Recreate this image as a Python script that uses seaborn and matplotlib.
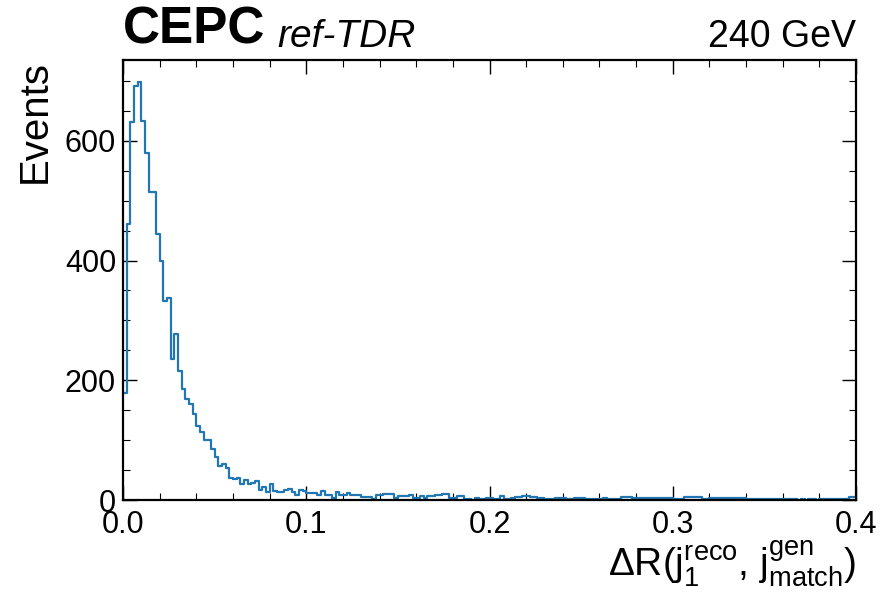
import numpy as np
import pandas as pd
import matplotlib
matplotlib.use("Agg")
import matplotlib.pyplot as plt
import seaborn as sns
from matplotlib.ticker import MultipleLocator

# ---- data ----
x_min, x_max, n_bins = 0.0, 0.4, 200
counts_head = [178, 461, 632, 692, 698, 633, 580, 514, 514, 445,
               400, 333, 337, 235, 278, 215, 186, 169, 160, 143,
               124, 113, 100, 100, 86, 72, 56, 60, 53, 36, 35]
counts_mid = [37, 27, 33, 26, 28, 31, 17, 22, 14, 27,
              15, 14, 14, 17, 18, 14, 8, 17, 15, 11,
              12, 12, 9, 15, 8, 9, 4, 14, 8, 8]
counts_tail1 = [11, 8, 8, 8, 5, 5, 5, 2, 8, 8,
                10, 10, 10, 4, 6, 6, 6, 8, 4, 4,
                6, 4, 6, 6, 8, 8, 10, 10, 4, 4,
                6, 6, 2, 2, 0, 4, 2, 2, 4, 4,
                2, 2, 7, 2, 2, 3, 5, 5, 6, 6,
                5, 5, 3, 3, 1, 1, 1, 4, 4, 4,
                2, 1, 3, 3, 3, 2, 1, 1, 1, 1]
counts_tail2 = [3, 2, 2, 2, 2, 5, 5, 5, 3, 3,
                3, 3, 3, 3, 3, 3, 3, 3, 3, 2,
                2, 2, 5, 5, 5, 5, 5, 1, 1, 3,
                3, 3, 3, 3, 3, 3, 3, 3, 3, 1,
                1, 1, 1, 1, 2, 2, 2, 1, 1, 1,
                1, 1, 1, 0, 1, 0, 1, 1, 0, 1,
                2, 2, 2, 2, 2, 2, 1, 5, 5]
counts = counts_head + counts_mid + counts_tail1 + counts_tail2
counts = counts[:n_bins] + [0] * max(0, n_bins - len(counts))

binw = (x_max - x_min) / n_bins
centers = x_min + binw * (np.arange(n_bins) + 0.5)
df = pd.DataFrame({"dr": centers, "w": np.asarray(counts, dtype=float)})

# ---- style ----
sns.set_theme(style="ticks")
plt.rcParams["font.family"] = ["Liberation Sans", "DejaVu Sans"]
plt.rcParams["mathtext.fontset"] = "custom"
plt.rcParams["mathtext.rm"] = "Liberation Sans"
plt.rcParams["mathtext.it"] = "Liberation Sans:italic"
plt.rcParams["mathtext.default"] = "regular"
plt.rcParams["text.color"] = "black"
plt.rcParams["axes.labelcolor"] = "black"

fig = plt.figure(figsize=(8.85, 5.97), dpi=100)
ax = fig.add_axes([123 / 885, 1 - 500 / 597, (856 - 123) / 885, (500 - 60) / 597])

sns.histplot(data=df, x="dr", weights="w", binwidth=binw, binrange=(x_min, x_max),
             element="step", fill=False, color="#2077b4", linewidth=1.6, ax=ax)

ax.set_xlim(x_min, x_max)
ax.set_ylim(0, 735)
ax.xaxis.set_major_locator(MultipleLocator(0.1))
ax.xaxis.set_minor_locator(MultipleLocator(0.02))
ax.yaxis.set_major_locator(MultipleLocator(200))
ax.yaxis.set_minor_locator(MultipleLocator(50))
ax.tick_params(which="both", direction="in", top=True, right=True,
               labelsize=22, colors="black")
ax.tick_params(which="major", length=10, width=1.0)
ax.tick_params(which="minor", length=5, width=0.8)
ax.tick_params(axis="x", which="major", pad=7)
ax.tick_params(axis="y", which="major", pad=5)
ax.set_xticks([0.0, 0.1, 0.2, 0.3, 0.4])
ax.set_xticklabels(["0.0", "0.1", "0.2", "0.3", "0.4"])
for s in ax.spines.values():
    s.set_linewidth(1.6)
    s.set_color("black")

ax.set_ylabel("Events", fontsize=29, loc="top", labelpad=8)
ax.set_xlabel(r"$\Delta$R(j$_{1}^{reco}$, j$_{match}^{gen}$)", fontsize=28,
              loc="right", labelpad=0)

ax.text(0.0, 1.012, "CEPC", transform=ax.transAxes, fontsize=37,
        fontweight="bold", ha="left", va="bottom")
ax.text(0.211, 1.012, "ref-TDR", transform=ax.transAxes, fontsize=28,
        fontstyle="italic", ha="left", va="bottom")
ax.text(1.0, 1.012, "240 GeV", transform=ax.transAxes, fontsize=27,
        ha="right", va="bottom")

fig.savefig("out.png", dpi=100)
